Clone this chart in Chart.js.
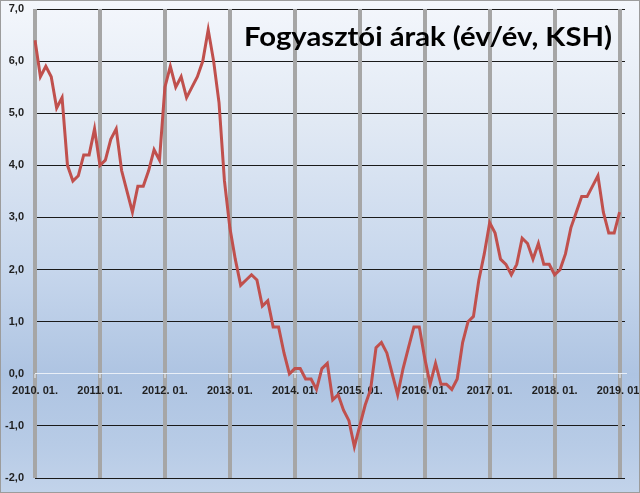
<!DOCTYPE html>
<html>
<head>
<meta charset="utf-8">
<script src="https://cdn.jsdelivr.net/npm/chart.js@4/dist/chart.umd.min.js"></script>
<style>
  body { margin: 0; }
  #wrap {
    position: relative; width: 640px; height: 493px;
    background: linear-gradient(to bottom, #f4f7fc 0%, #e1e9f4 25%, #c6d6ec 55%, #aec4e2 76%, #b7cbe6 90%, #c2d3ea 100%);
  }
  #wrap canvas { position: absolute; left: 0; top: 0; }
  #frame { position: absolute; left: 0; top: 0; right: 0; bottom: 0; border: 1px solid #9c9c9c; pointer-events: none; }
</style>
</head>
<body>
<div id="wrap">
  <canvas id="myChart" width="640" height="493"></canvas>
  <div id="frame"></div>
</div>
<script>
const title = 'Fogyasztói árak (év/év, KSH)';

// year tick labels (every 12th category)
const years = ['2010', '2011', '2012', '2013', '2014', '2015', '2016', '2017', '2018', '2019'];
const months = ['01', '02', '03', '04', '05', '06', '07', '08', '09', '10', '11', '12'];

// values, one row per year of categories
const v2010 = [6.4, 5.7, 5.9, 5.7, 5.1, 5.3, 4.0, 3.7, 3.8, 4.2, 4.2, 4.7];
const v2011 = [4.0, 4.1, 4.5, 4.7, 3.9, 3.5, 3.1, 3.6, 3.6, 3.9, 4.3, 4.1];
const v2012 = [5.5, 5.9, 5.5, 5.7, 5.3, 5.5, 5.7, 6.0, 6.6, 6.0, 5.2, 3.7];
const v2013 = [2.8, 2.2, 1.7, 1.8, 1.9, 1.8, 1.3, 1.4, 0.9, 0.9, 0.4, 0.0];
const v2014 = [0.1, 0.1, -0.1, -0.1, -0.3, 0.1, 0.2, -0.5, -0.4, -0.7, -0.9, -1.4];
const v2015 = [-1.0, -0.6, -0.3, 0.5, 0.6, 0.4, 0.0, -0.4, 0.1, 0.5, 0.9, 0.9];
const v2016 = [0.3, -0.2, 0.2, -0.2, -0.2, -0.3, -0.1, 0.6, 1.0, 1.1, 1.8, 2.3];
const v2017 = [2.9, 2.7, 2.2, 2.1, 1.9, 2.1, 2.6, 2.5, 2.2, 2.5, 2.1, 2.1];
const v2018 = [1.9, 2.0, 2.3, 2.8, 3.1, 3.4, 3.4, 3.6, 3.8, 3.1, 2.7, 2.7];
const v2019 = [3.1];

const values = [].concat(v2010, v2011, v2012, v2013, v2014, v2015, v2016, v2017, v2018, v2019);

// categories: monthly, 2010. 01. .. 2019. 02.
const labels = [];
years.forEach(y => {
  const n = y === '2019' ? 2 : 12;
  for (let m = 0; m < n; m++) labels.push(y + '. ' + months[m] + '.');
});

const titlePlugin = {
  id: 'titleText',
  afterDraw(chart) {
    const ctx = chart.ctx;
    ctx.save();
    ctx.font = 'bold 27px Lato';
    ctx.fillStyle = '#000';
    ctx.textBaseline = 'alphabetic';
    ctx.textAlign = 'left';
    const w = ctx.measureText(title).width;
    ctx.translate(244, 46);
    ctx.scale(368 / w, 1);
    ctx.fillText(title, 0, 0);
    ctx.restore();
  }
};

const ctx = document.getElementById('myChart');
new Chart(ctx, {
  type: 'line',
  data: {
    labels: labels,
    datasets: [{
      data: values,
      borderColor: '#c0504d',
      borderWidth: 3,
      pointRadius: 0,
      tension: 0,
      fill: false
    }]
  },
  options: {
    responsive: false,
    animation: false,
    devicePixelRatio: 1,
    layout: { padding: { top: 9, bottom: 15, left: 0, right: 15 } },
    plugins: {
      legend: { display: false },
      tooltip: { enabled: false }
    },
    scales: {
      x: {
        position: { y: 0 },
        offset: false,
        border: { color: '#e9eff7', width: 1 },
        grid: {
          z: -1,
          color: c => c.index % 12 === 0 ? '#a6a6a6' : 'transparent',
          lineWidth: 4,
          tickColor: c => c.index % 12 === 0 ? '#eef3fa' : 'transparent',
          tickWidth: 1,
          tickLength: 4
        },
        ticks: {
          autoSkip: false,
          maxRotation: 0,
          padding: 7,
          color: '#1f1f1f',
          font: { family: 'Liberation Sans', size: 11, weight: 'bold' },
          callback: function (v, i) { return i % 12 === 0 ? this.getLabelForValue(v) : ''; }
        },
        afterFit: s => { s.paddingLeft = 0; s.paddingRight = 0; }
      },
      y: {
        min: -2,
        max: 7,
        border: { display: false },
        grid: {
          z: -2,
          color: c => c.tick.value === 0 ? 'transparent' : '#1a1a1a',
          lineWidth: 1,
          drawTicks: false
        },
        ticks: {
          stepSize: 1,
          padding: 11,
          color: '#1f1f1f',
          font: { family: 'Liberation Sans', size: 11, weight: 'bold' },
          callback: v => v.toFixed(1).replace('.', ',')
        },
        afterFit: s => { s.width = 35; s.paddingTop = 0; s.paddingBottom = 0; }
      }
    }
  },
  plugins: [titlePlugin]
});
</script>
</body>
</html>
